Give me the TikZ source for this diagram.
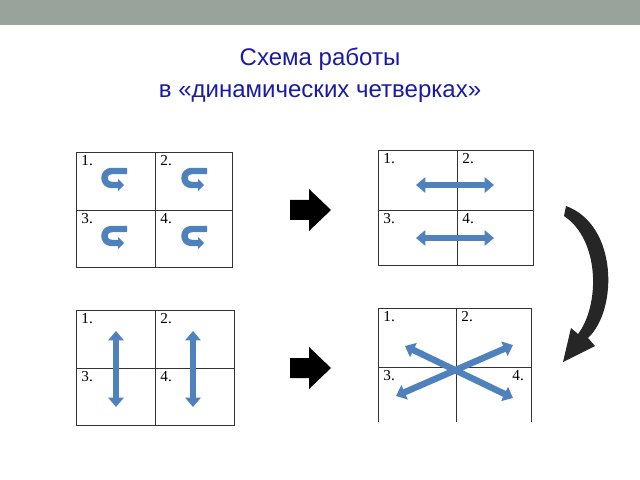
\documentclass[tikz,border=0pt]{standalone}
\usepackage{fontspec}
\setmainfont{Liberation Serif}
\newfontfamily\titlefont{Liberation Sans}
\usetikzlibrary{arrows.meta,positioning}
\definecolor{bargray}{HTML}{9AA39B}
\definecolor{titleblue}{HTML}{1A1AA6}
\definecolor{arrowblue}{HTML}{4F81BD}
\definecolor{arrowedge}{HTML}{385D8A}
\tikzset{
  cellnum/.style={anchor=north west, inner sep=1pt, font=\fontsize{13}{13}\selectfont},
  grid/.style={draw=black!80, line width=0.6pt},
  blue2/.style={line width=5.5pt, draw=arrowblue, {Triangle[length=8pt,width=13pt]}-{Triangle[length=8pt,width=13pt]}},
  hook/.style={line width=5.5pt, draw=arrowblue, -{Triangle[length=5pt,width=10pt]}},
  blockarrow/.style={fill=black}
}
\begin{document}
\begin{tikzpicture}[x=0.03cm,y=-0.03cm]
  \useasboundingbox (0,0) rectangle (640,480);
  % top bar
  \fill[bargray] (0,0) rectangle (640,25);
  % title
  \node[font=\titlefont\fontsize{20.5}{27}\selectfont, text=titleblue, align=center] (title) at (320,75)
    {Схема работы\\ в «динамических четверках»};

  % grid 1: turns
  \draw[grid] (76,152) rectangle (232,267);
  \draw[grid] (155,152) -- (155,267) (76,210) -- (232,210);
  \node[cellnum] (a1) at (80,154) {1.};
  \node[cellnum] (a2) at (159,154) {2.};
  \node[cellnum] (a3) at (80,212) {3.};
  \node[cellnum] (a4) at (159,212) {4.};
  \foreach \x/\y in {112/171, 192/171, 112/229, 192/229}
    \draw[hook] (\x+15,\y) -- (\x,\y) .. controls (\x-10,\y) and (\x-10,\y+14) .. (\x,\y+14) -- (\x+12,\y+14);

  % grid 2: across
  \draw[grid] (378,150) rectangle (533,265);
  \draw[grid] (457,150) -- (457,265) (378,210) -- (533,210);
  \node[cellnum] (b1) at (382,152) {1.};
  \node[cellnum] (b2) at (461,152) {2.};
  \node[cellnum] (b3) at (382,212) {3.};
  \node[cellnum] (b4) at (461,212) {4.};
  \draw[blue2] (416,185) -- (494,185);
  \draw[blue2] (416,238) -- (494,238);

  % grid 3: up and down
  \draw[grid] (76,310) rectangle (234,425);
  \draw[grid] (155,310) -- (155,425) (76,368) -- (234,368);
  \node[cellnum] (c1) at (80,312) {1.};
  \node[cellnum] (c2) at (159,312) {2.};
  \node[cellnum] (c3) at (80,370) {3.};
  \node[cellnum] (c4) at (159,370) {4.};
  \draw[blue2] (116,331) -- (116,407);
  \draw[blue2] (193,331) -- (193,407);

  % grid 4: diagonals
  \draw[grid] (378,422) -- (378,308) -- (531,308) -- (531,422);
  \draw[grid] (456,308) -- (456,422) (378,367) -- (531,367);
  \node[cellnum] (d1) at (382,310) {1.};
  \node[cellnum] (d2) at (460,310) {2.};
  \node[cellnum] (d3) at (382,369) {3.};
  \node[cellnum] (d4) at (511,369) {4.};
  \draw[blue2] (405,346) -- (513,398);
  \draw[blue2] (396,396) -- (513,345);

  % block arrows
  \foreach \y in {210, 368}
    \fill[blockarrow] (290,\y-10) -- (309,\y-10) -- (309,\y-21) -- (331,\y) -- (309,\y+21) -- (309,\y+10) -- (290,\y+10) -- cycle;

  % curved arrow
  \fill[black!85] (566,206) .. controls (618,225) and (618,310) .. (588,338)
    -- (595,346) -- (563,362) -- (571,328) -- (578,334)
    .. controls (600,305) and (600,240) .. (564,216) -- cycle;
\end{tikzpicture}
\end{document}
